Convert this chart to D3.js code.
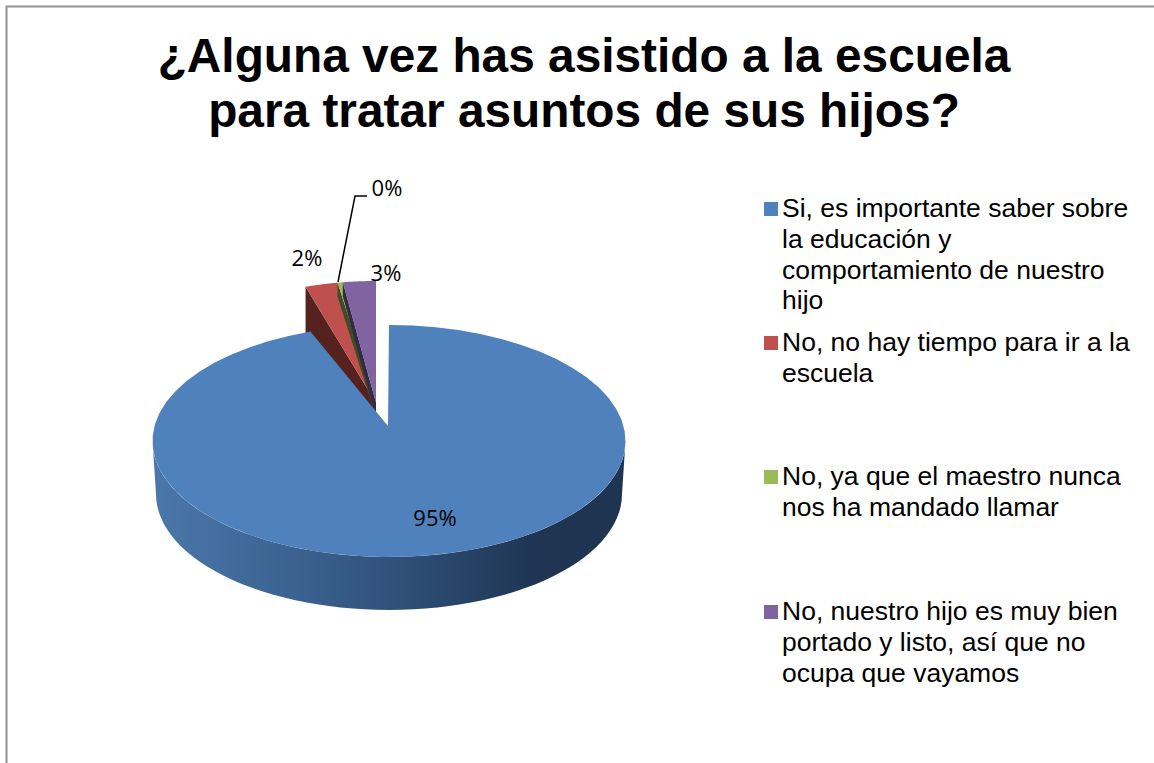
<!DOCTYPE html>
<html><head><meta charset="utf-8">
<script src="https://cdn.jsdelivr.net/npm/d3@7"></script>
<style>html,body{margin:0;background:#fff;overflow:hidden}svg{display:block}</style></head>
<body><div id="c"></div>
<script>
const categories = [
  ["Si, es importante saber sobre","la educación y","comportamiento de nuestro","hijo"],
  ["No, no hay tiempo para ir a la","escuela"],
  ["No, ya que el maestro nunca","nos ha mandado llamar"],
  ["No, nuestro hijo es muy bien","portado y listo, así que no","ocupa que vayamos"]
];
const values = [94.61, 2.49, 0.4, 2.5];
const tops = ["#4f81bd","#c0504d","#9bbb59","#8064a2"];
const darks = ["#1f3553","#552220","#3f4d24","#352a45"];
const titleLines = ["¿Alguna vez has asistido a la escuela","para tratar asuntos de sus hijos?"];
const W=1154,H=763;
const svg=d3.select("#c").append("svg").attr("width",W).attr("height",H);
const defs=svg.append("defs");
const g=defs.append("linearGradient").attr("id","wall");
[[0,"#4a78aa"],[.3,"#3b6290"],[.55,"#2e4e76"],[.8,"#1f3553"],[1,"#1e3450"]].forEach(s=>g.append("stop").attr("offset",s[0]).attr("stop-color",s[1]));
svg.append("path").attr("fill","none").attr("stroke","#929292").attr("stroke-width",2).attr("d",d3.line()([[6.5,H],[6.5,6.5],[W,6.5]]));
svg.append("text").attr("font-family","Liberation Sans").attr("font-weight","bold").attr("font-size",47.8).attr("text-anchor","middle").attr("fill","#000")
 .selectAll("tspan").data(titleLines).join("tspan").attr("x",584).attr("y",(d,i)=>72+i*54.5).text(d=>d);

const pie=d3.pie().sort(null).value(d=>d)(values);
const main={cx:389,cy:441,rx:236.5,ry:116,ax:388,ay:426};
const small={cx:376,cy:383,rx:212,ry:102,ax:376,ay:403};
const sideDepth=[0,60,14,14];
const pt=(s,t,dy=0)=>[s.cx+s.rx*Math.sin(t),s.cy-s.ry*Math.cos(t)+dy];
const arcPts=(s,a,b,dy=0)=>d3.range(0,61).map(i=>pt(s,a+(b-a)*i/60,dy));
const line=d3.line();
pie.slice(1).forEach((p,i)=>{
  const a=p.startAngle-2*Math.PI,b=p.endAngle-2*Math.PI;
  const o=pt(small,a),d=sideDepth[i+1];
  svg.append("path").attr("fill",darks[i+1]).attr("d",line([o,[small.ax,small.ay],[small.ax,small.ay+d],[o[0],o[1]+d]])+"Z");
  svg.append("path").attr("fill",tops[i+1]).attr("d",line([[small.ax,small.ay],...arcPts(small,a,b)])+"Z");
});
const bottom={cx:389,cy:494,rx:233,ry:116};
svg.append("path").attr("fill","url(#wall)").attr("d",line([...arcPts(main,Math.PI/2,3*Math.PI/2),...arcPts(bottom,3*Math.PI/2,Math.PI/2)])+"Z");
svg.append("path").attr("fill",tops[0]).attr("d",line([[main.ax,main.ay],...arcPts(main,pie[0].startAngle,pie[0].endAngle)])+"Z");

const labels=values.map(v=>Math.round(v)+"%");
const labelPos=[[435,526],[307,266],[387,196],[386,281]];
svg.append("g").attr("font-family","Open Sans").attr("font-size",22).attr("text-anchor","middle").attr("fill","#000")
 .selectAll("text").data(labels).join("text").text(d=>d)
 .attr("x",(d,i)=>labelPos[i][0]).attr("y",(d,i)=>labelPos[i][1]);
svg.append("path").attr("fill","none").attr("stroke","#000").attr("stroke-width",1.5).attr("d",line([[338,282],[355,196],[367,196]]));

const legendY=[217,351,485,620];
const lg=svg.append("g").attr("font-family","Liberation Sans").attr("font-size",26.5).attr("fill","#000");
categories.forEach((c,i)=>{
  lg.append("rect").attr("x",764).attr("y",legendY[i]-15).attr("width",14).attr("height",14).attr("fill",tops[i]);
  c.forEach((t,j)=>lg.append("text").attr("x",782).attr("y",legendY[i]+j*30.8).text(t));
});
</script></body></html>
